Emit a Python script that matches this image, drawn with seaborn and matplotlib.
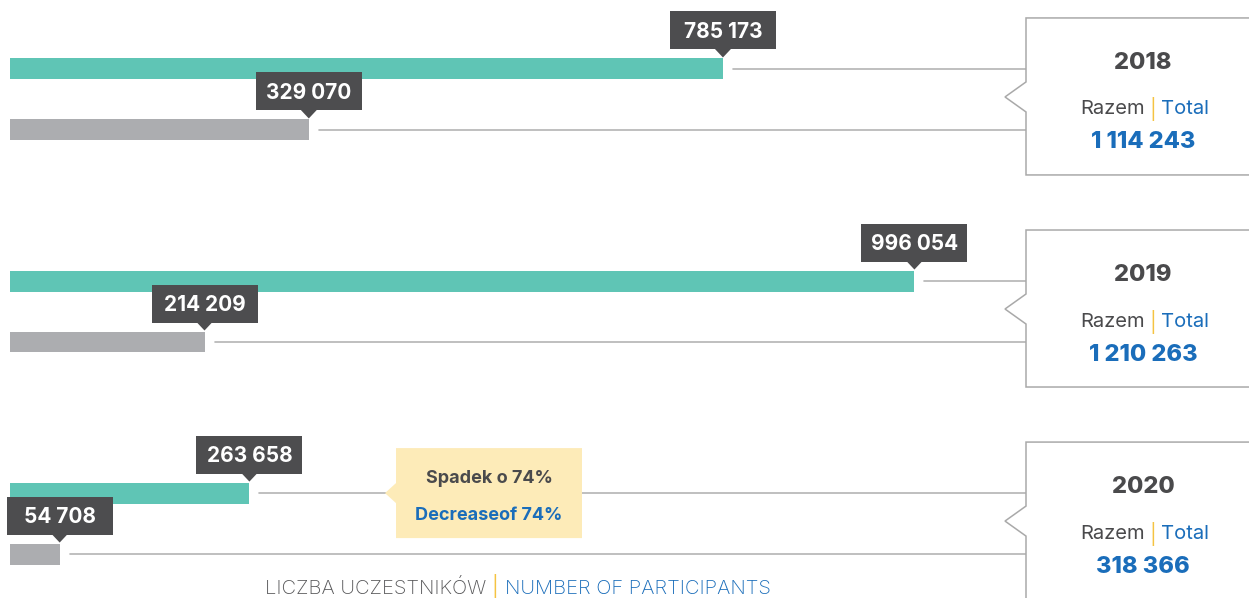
import pandas as pd
import seaborn as sns
import matplotlib.pyplot as plt
import matplotlib.patches as mpatches
import matplotlib.transforms as mtransforms

# data
years = ["2018", "2019", "2020"]
series = ["teal", "grey"]
values_teal = [785173, 996054, 263658]
values_grey = [329070, 214209, 54708]
totals = [1114243, 1210263, 318366]
drop_pl = "Spadek o 74%"
drop_en = "Decreaseof 74%"
axis_pl = "LICZBA UCZESTNIKÓW"
axis_en = "NUMBER OF PARTICIPANTS"

TEAL = "#5fc5b5"
GREY = "#acadb0"
DARK = "#4d4d4f"
BLUE = "#1a6dba"
YELLOW = "#f5c342"
LINE = "#b4b4b4"

df = pd.DataFrame({
    "year": years * 2,
    "series": ["teal"] * 3 + ["grey"] * 3,
    "value": values_teal + values_grey,
})


def fmt(v):
    return f"{int(round(v)):,}".replace(",", " ")


sns.set_theme(style="white")
plt.rcParams['font.family'] = ['Inter', 'DejaVu Sans']

W, H = 1249, 598
fig = plt.figure(figsize=(W / 100, H / 100), dpi=100)
ax = fig.add_axes([0, 0, 1, 1])

sns.barplot(data=df, y="year", x="value", hue="series", hue_order=series,
            order=years, orient="h", width=0.575, gap=0.656, saturation=1,
            palette={"teal": TEAL, "grey": GREY}, linewidth=0, legend=False, ax=ax)

k = 9.08e-4  # pixels per participant
ax.set_xlim(-10 / k, (W - 10) / k)
ax.set_ylim(2.351, -0.469)
ax.axis("off")

# figure pixel coords, y pointing down
px = mtransforms.Affine2D().scale(1 / W, -1 / H).translate(0, 1) + fig.transFigure


def to_px(x, y):
    d = ax.transData.transform((x, y))
    return d[0], H - d[1]


BOX_X = 1026
for p in ax.patches:
    w = p.get_width()
    if w <= 0:
        continue
    ex, ey = to_px(w, p.get_y() + p.get_height() / 2)
    _, top = to_px(w, p.get_y())

    # connector line to the year box
    ax.plot([ex + 10, BOX_X], [ey, ey], color=LINE, lw=1.2, transform=px, zorder=1)

    # dark value label with pointer
    ax.add_patch(mpatches.Rectangle((ex - 53, top - 47), 106, 38, facecolor=DARK,
                                    edgecolor="none", transform=px, zorder=4))
    ax.add_patch(mpatches.Polygon([(ex - 8, top - 9.5), (ex + 8, top - 9.5), (ex, top - 1)],
                                  closed=True, facecolor=DARK, edgecolor="none",
                                  transform=px, zorder=4))
    ax.text(ex, top - 26.5, fmt(w), color="white", fontsize=15, fontweight="bold",
            ha="center", va="center", transform=px, zorder=5)

# year boxes
for i, yr in enumerate(years):
    teal_y = to_px(0, i - 0.14375)[1]
    grey_y = to_px(0, i + 0.14375)[1]
    gc = (teal_y + grey_y) / 2
    t, b, nc = gc - 81.5, gc + 75.5, gc - 2.5
    ax.add_patch(mpatches.Polygon([(W + 5, t), (BOX_X, t), (BOX_X, nc - 15), (1005, nc),
                                   (BOX_X, nc + 15), (BOX_X, b), (W + 5, b)],
                                  closed=False, facecolor="white", edgecolor="#a9a9a9",
                                  lw=1.1, transform=px, zorder=3))
    ax.text(1143, gc - 36.5, yr, color="#4a4a4c", fontsize=17, fontweight="heavy",
            ha="center", va="center", transform=px, zorder=5)
    ax.text(1145, gc + 10, "Razem", color="#4a4a4c", fontsize=14.5,
            ha="right", va="center", transform=px, zorder=5)
    ax.text(1153, gc + 10, "|", color=YELLOW, fontsize=14.5,
            ha="center", va="center", transform=px, zorder=5)
    ax.text(1161, gc + 10, "Total", color=BLUE, fontsize=14.5,
            ha="left", va="center", transform=px, zorder=5)
    ax.text(1143, gc + 43, fmt(totals[i]), color=BLUE, fontsize=17, fontweight="heavy",
            ha="center", va="center", transform=px, zorder=5)

# decrease callout on the 2020 line
line_y = to_px(0, 2 - 0.14375)[1]
ax.add_patch(mpatches.Polygon([(396, line_y - 45), (582, line_y - 45), (582, line_y + 45),
                               (396, line_y + 45), (396, line_y + 10), (385, line_y),
                               (396, line_y - 10)],
                              closed=True, facecolor="#fdebb8", edgecolor="none",
                              transform=px, zorder=3))
ax.text(489, line_y - 14.5, drop_pl, color="#4a4a4c", fontsize=13, fontweight="bold",
        ha="center", va="center", transform=px, zorder=5)
ax.text(489, line_y + 22, drop_en, color=BLUE, fontsize=13, fontweight="bold",
        ha="center", va="center", transform=px, zorder=5)

# axis title at the bottom edge
ax.text(486, 598, axis_pl, color="#58585a", fontsize=14.5, fontweight="light",
        ha="right", va="bottom", transform=px, zorder=5)
ax.text(495, 598, "|", color=YELLOW, fontsize=14.5, ha="center", va="bottom",
        transform=px, zorder=5)
ax.text(505, 598, axis_en, color=BLUE, fontsize=14.5, fontweight="light",
        ha="left", va="bottom", transform=px, zorder=5)

fig.savefig("out.png", dpi=100)
